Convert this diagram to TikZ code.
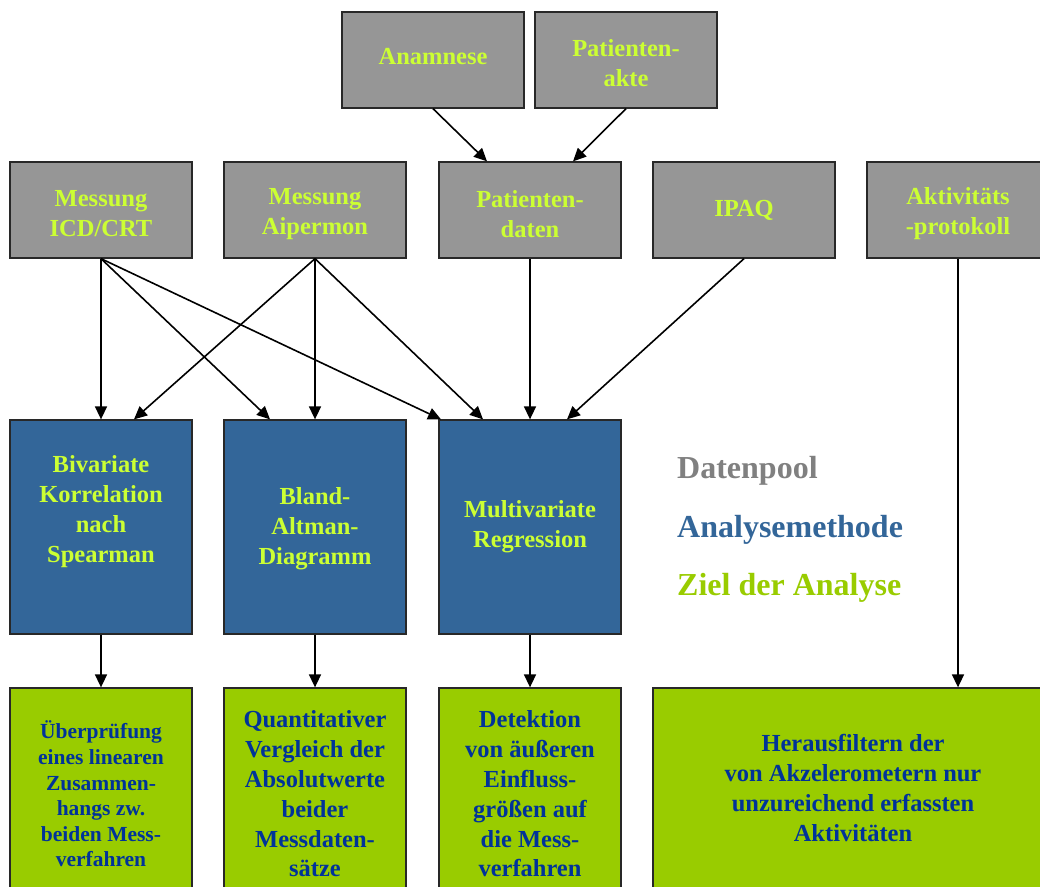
\documentclass[tikz,border=0pt]{standalone}
\usepackage{fontspec}
\setmainfont{Liberation Serif}
\usetikzlibrary{arrows.meta}
\definecolor{boxgray}{RGB}{150,150,150}
\definecolor{boxblue}{RGB}{51,102,153}
\definecolor{boxgreen}{RGB}{153,204,0}
\definecolor{txtyellow}{RGB}{204,255,51}
\definecolor{txtblue}{RGB}{0,51,153}
\definecolor{leggray}{RGB}{128,128,128}
\definecolor{edge}{RGB}{40,40,40}
\begin{document}
\begin{tikzpicture}[x=1pt,y=-1pt,
  pool/.style={draw=edge, line width=1.3pt, fill=boxgray, text=txtyellow,
    font=\bfseries\fontsize{24.5}{30}\selectfont, align=center,
    minimum width=182pt, minimum height=96pt, inner sep=0pt},
  pooltext/.style={text=txtyellow, font=\bfseries\fontsize{24.5}{30}\selectfont, align=center, inner sep=0pt},
  method/.style={pool, fill=boxblue, minimum height=214pt},
  goal/.style={pool, fill=boxgreen, text=txtblue, minimum height=212pt},
  goaltext/.style={text=txtblue, font=\bfseries\fontsize{24.5}{29.8}\selectfont, align=center, inner sep=0pt},
  legend/.style={anchor=west, inner sep=0pt, font=\bfseries\fontsize{32}{38}\selectfont},
  conn/.style={-{Triangle[length=13pt,width=12pt]}, line width=1.6pt, black}]
\useasboundingbox (0,0) rectangle (1040,886);
\clip (0,0) rectangle (1040,886);
\fill[white] (0,0) rectangle (1040,886);

% top row
\node[pool] (anam) at (433,60) {};
\node[pooltext] (anamt) at (433,57) {Anamnese};
\node[pool] (akte) at (626,60) {};
\node[pooltext] (aktet) at (626,63) {Patienten-\\akte};

% second row
\node[pool] (icd) at (101,210) {};
\node[pooltext] (icdt) at (101,214) {Messung\\ICD/CRT};
\node[pool] (aip) at (315,210) {};
\node[pooltext] (aipt) at (315,214) {Messung\\Aipermon};
\node[pool] (pdat) at (530,210) {};
\node[pooltext] (pdatt) at (530,214) {Patienten-\\daten};
\node[pool] (ipaq) at (744,210) {IPAQ};
\node[pool] (akt) at (958,210) {};
\node[pooltext] (aktt) at (958,214) {Aktivitäts\\-protokoll};

% analysis methods
\node[method] (biv) at (101,527) {};
\node[pooltext] (bivt) at (101,512) {Bivariate\\Korrelation\\nach\\Spearman};
\node[method] (bland) at (315,527) {};
\node[pooltext] (blandt) at (315,529) {Bland-\\Altman-\\Diagramm};
\node[method] (multi) at (530,527) {Multivariate\\Regression};

% goals
\node[goal] (g1) at (101,794) {};
\node[text=txtblue, font=\bfseries\fontsize{21.5}{25.6}\selectfont, align=center, inner sep=0pt] (g1t) at (101,794)
  {Überprüfung\\eines linearen\\Zusammen-\\hangs zw.\\beiden Mess-\\verfahren};
\node[goal] (g2) at (315,794) {};
\node[goaltext] (g2t) at (315,794) {Quantitativer\\Vergleich der\\Absolutwerte\\beider\\Messdaten-\\sätze};
\node[goal] (g3) at (530,794) {};
\node[goaltext] (g3t) at (530,794) {Detektion\\von äußeren\\Einfluss-\\größen auf\\die Mess-\\verfahren};
\node[goal, minimum width=397pt] (g4) at (851.5,794) {};
\node[goaltext] (g4t) at (853,788) {Herausfiltern der\\von Akzelerometern nur\\unzureichend erfassten\\Aktivitäten};

% legend
\node[legend, text=leggray] (lg1) at (677,471) {Datenpool};
\node[legend, text=boxblue] (lg2) at (677,530) {Analysemethode};
\node[legend, text=boxgreen] (lg3) at (677,588) {Ziel der Analyse};

% connectors
\draw[conn] (anam.south) -- ([xshift=-43pt]pdat.north);
\draw[conn] (akte.south) -- ([xshift=43pt]pdat.north);

\draw[conn] (icd.south) -- (biv.north);
\draw[conn] (icd.south) -- ([xshift=-45pt]bland.north);
\draw[conn] (icd.south) -- ([xshift=-89pt]multi.north);
\draw[conn] (aip.south) -- ([xshift=33pt]biv.north);
\draw[conn] (aip.south) -- (bland.north);
\draw[conn] (aip.south) -- ([xshift=-47pt]multi.north);
\draw[conn] (pdat.south) -- (multi.north);
\draw[conn] (ipaq.south) -- ([xshift=37pt]multi.north);
\draw[conn] (akt.south) -- ([xshift=106.5pt]g4.north);

\draw[conn] (biv.south) -- (g1.north);
\draw[conn] (bland.south) -- (g2.north);
\draw[conn] (multi.south) -- (g3.north);
\end{tikzpicture}
\end{document}
